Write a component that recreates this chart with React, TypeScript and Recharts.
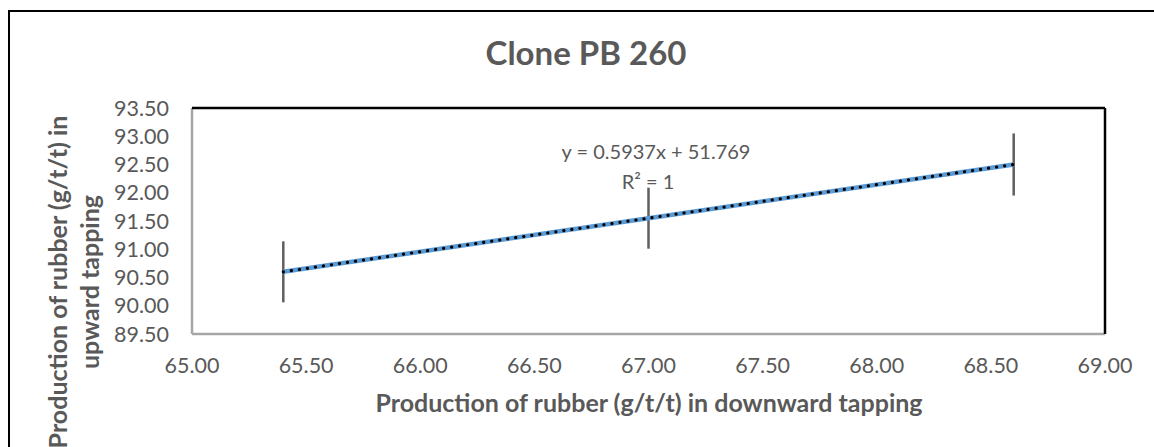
import React from 'react';
import { ScatterChart, Scatter, XAxis, YAxis, ErrorBar, ReferenceLine, Customized } from 'recharts';

const downwardTapping = [65.4, 67.0, 68.6];
const upwardTapping = [90.6, 91.55, 92.5];
const errorValues = [0.54, 0.54, 0.55];
const xTicks = [65, 65.5, 66, 66.5, 67, 67.5, 68, 68.5, 69];
const yTicks = [89.5, 90, 90.5, 91, 91.5, 92, 92.5, 93, 93.5];

const points = downwardTapping.map((x, i) => ({ x, y: upwardTapping[i], err: errorValues[i] }));

const FONT = 'Lato, "Open Sans", sans-serif';
const GREY = '#595959';

const Texts = () => (
  <g fontFamily={FONT} fill={GREY}>
    <text x={586} y={65} textAnchor="middle" fontSize={33} fontWeight={700}>
      Clone PB 260
    </text>
    <text x={656} y={159} textAnchor="middle" fontSize={20}>
      y = 0.5937x + 51.769
    </text>
    <text x={648} y={189} textAnchor="middle" fontSize={20}>
      R² = 1
    </text>
    <text x={649} y={412} textAnchor="middle" fontSize={25} fontWeight={700}>
      Production of rubber (g/t/t) in downward tapping
    </text>
    <text transform="translate(67,282) rotate(-90)" textAnchor="middle" fontSize={25} fontWeight={700}>
      Production of rubber (g/t/t) in
    </text>
    <text transform="translate(99,282) rotate(-90)" textAnchor="middle" fontSize={25} fontWeight={700}>
      upward tapping
    </text>
  </g>
);

export default function App() {
  return (
    <div style={{ position: 'absolute', left: 0, top: 0, width: 1154, height: 447, overflow: 'hidden', background: '#fff' }}>
      <div
        style={{
          position: 'absolute',
          left: 8,
          top: 10,
          width: 1300,
          height: 600,
          border: '2px solid #000',
          boxSizing: 'border-box',
        }}
      />
      <div style={{ position: 'absolute', left: 0, top: 0 }}>
        <ScatterChart width={1154} height={447} margin={{ top: 108, right: 49, left: 92, bottom: 53 }}>
          <XAxis
            type="number"
            dataKey="x"
            domain={[65, 69]}
            ticks={xTicks}
            interval={0}
            tickFormatter={(v: number) => v.toFixed(2)}
            axisLine={false}
            tickLine={false}
            tickMargin={17.5}
            height={60}
            tick={{ fill: GREY, fontSize: 21.5, fontFamily: FONT }}
          />
          <YAxis
            type="number"
            dataKey="y"
            domain={[89.5, 93.5]}
            ticks={yTicks}
            interval={0}
            tickFormatter={(v: number) => v.toFixed(2)}
            axisLine={false}
            tickLine={false}
            tickMargin={17}
            width={100}
            tick={{ fill: GREY, fontSize: 21.5, fontFamily: FONT }}
          />
          <ReferenceLine y={89.5} stroke="#a6a6a6" strokeWidth={2.5} />
          <ReferenceLine x={65} stroke="#a6a6a6" strokeWidth={2.5} />
          <ReferenceLine y={93.5} stroke="#000" strokeWidth={2.5} />
          <ReferenceLine x={69} stroke="#000" strokeWidth={2.5} />
          <Scatter
            data={points}
            isAnimationActive={false}
            line={{ stroke: '#5b9bd5', strokeWidth: 4.5 }}
            shape={() => <g />}
          >
            <ErrorBar dataKey="err" direction="y" width={0} stroke="#5f5f5f" strokeWidth={2.5} isAnimationActive={false} />
          </Scatter>
          <Scatter
            data={points}
            isAnimationActive={false}
            line={{ stroke: '#000', strokeWidth: 3.2, strokeDasharray: '0.1 8', strokeLinecap: 'round' }}
            shape={() => <g />}
          />
          <Customized component={Texts} />
        </ScatterChart>
      </div>
    </div>
  );
}
